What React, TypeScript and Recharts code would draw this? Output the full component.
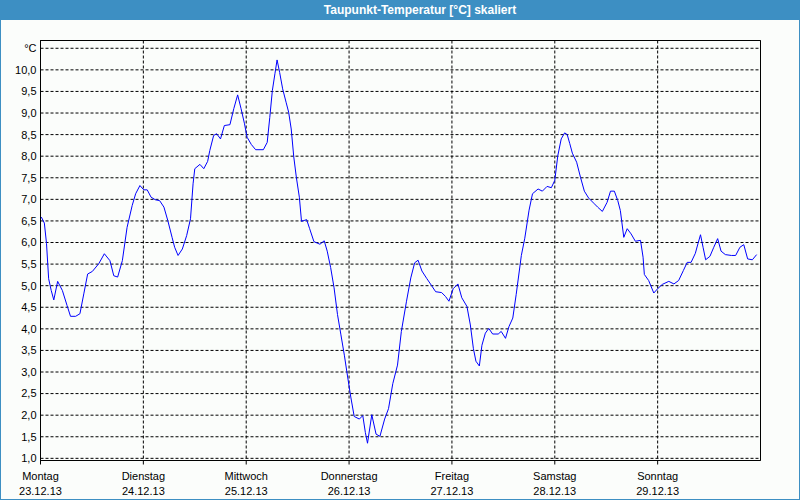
import { CartesianGrid, Line, LineChart, ReferenceArea, XAxis, YAxis } from "recharts";

// hours since Montag 00:00 and dew point (°C)
const hours = [
  0.2, 0.9, 1.4, 1.9, 2.5, 3.1, 4.0, 5.1, 6.2, 7.0, 8.2, 9.2, 10.1, 11.0, 12.1, 13.6, 14.9, 16.2, 17.1, 18.0,
  19.1, 20.2, 21.4, 22.2, 23.2, 24.1, 24.9, 25.8, 26.8, 27.8, 28.8, 29.7, 30.7, 31.3, 32.1, 33.1, 34.1, 35.0,
  35.6, 36.0, 37.2, 38.1, 39.0, 39.5, 40.4, 41.1, 42.0, 42.9, 44.2, 45.1, 46.0, 46.8, 47.6, 48.2, 49.2, 50.2,
  52.0, 52.9, 53.5, 54.1, 54.7, 55.2, 55.8, 56.5, 57.3, 57.9, 58.5, 59.1, 59.7, 60.4, 60.9, 62.1, 62.8, 63.8,
  65.2, 66.2, 66.9, 67.7, 68.5, 69.3, 70.1, 70.9, 71.6, 72.4, 73.2, 74.4, 75.2, 75.8, 76.3, 77.3, 78.3, 79.2,
  80.3, 81.2, 82.2, 83.3, 84.2, 85.4, 86.4, 87.3, 88.1, 89.0, 90.1, 91.2, 92.2, 93.6, 94.5, 95.3, 96.3, 97.4,
  98.3, 99.5, 100.3, 101.0, 101.6, 102.4, 103.0, 103.8, 104.6, 105.5, 106.8, 107.5, 108.5, 109.3, 110.2, 111.0,
  112.2, 113.0, 114.0, 114.8, 116.1, 117.1, 118.2, 119.2, 120.0, 120.7, 121.5, 122.3, 122.9, 123.5, 124.1,
  125.1, 126.0, 126.9, 127.9, 129.1, 130.0, 131.1, 132.2, 133.0, 133.9, 134.7, 135.3, 136.1, 136.9, 137.8,
  138.8, 140.0, 140.6, 140.9, 141.9, 143.1, 144.0, 145.1, 146.6, 147.8, 148.9, 150.0, 150.9, 151.8, 152.8,
  153.4, 154.0, 154.6, 155.2, 156.2, 157.1, 158.0, 158.8, 159.8, 161.2, 162.2, 163.2, 164.1, 165.0, 166.1, 167.1,
];
const dewPoint = [
  6.59, 6.45, 5.98, 5.16, 4.89, 4.67, 5.1, 4.89, 4.54, 4.29, 4.29, 4.35, 4.81, 5.27, 5.33, 5.51, 5.74, 5.58, 5.23, 5.2,
  5.58, 6.35, 6.86, 7.13, 7.32, 7.22, 7.22, 7.05, 6.99, 6.97, 6.82, 6.51, 6.12, 5.89, 5.7, 5.85, 6.16, 6.55,
  7.36, 7.71, 7.81, 7.71, 7.88, 8.13, 8.48, 8.52, 8.4, 8.71, 8.73, 9.1, 9.42, 9.1, 8.75, 8.44, 8.27, 8.15,
  8.15, 8.32, 8.9, 9.52, 9.91, 10.23, 9.94, 9.56, 9.25, 9.02, 8.63, 7.98, 7.51, 7.05, 6.49, 6.53, 6.32, 6.02,
  5.96, 6.04, 5.8, 5.42, 4.95, 4.33, 3.86, 3.39, 2.93, 2.42, 1.97, 1.91, 1.99, 1.6, 1.35, 2.01, 1.56, 1.51,
  1.91, 2.15, 2.73, 3.16, 3.94, 4.64, 5.18, 5.53, 5.59, 5.34, 5.17, 5.01, 4.86, 4.84, 4.75, 4.64, 4.93, 5.04,
  4.72, 4.52, 4.09, 3.55, 3.25, 3.14, 3.62, 3.9, 4.01, 3.88, 3.88, 3.94, 3.78, 4.05, 4.25, 4.8,
  5.7, 6.1, 6.75, 7.13, 7.24, 7.19, 7.3, 7.27, 7.44, 8.01, 8.4, 8.54, 8.5, 8.29, 8.07,
  7.86, 7.51, 7.19, 7.03, 6.91, 6.82, 6.72, 6.93, 7.19, 7.19, 6.97, 6.74, 6.12, 6.32, 6.2,
  6.03, 6.05, 5.66, 5.26, 5.12, 4.83, 4.93, 5.03, 5.1, 5.04, 5.12, 5.35, 5.54, 5.54, 5.75,
  5.97, 6.18, 5.89, 5.6, 5.68, 5.89, 6.09, 5.8, 5.72, 5.7, 5.7, 5.89, 5.95, 5.62, 5.6, 5.72,
];

const dayNames = ["Montag", "Dienstag", "Mittwoch", "Donnerstag", "Freitag", "Samstag", "Sonntag"];
const dayDates = ["23.12.13", "24.12.13", "25.12.13", "26.12.13", "27.12.13", "28.12.13", "29.12.13"];
const dayTicks = [0, 24, 48, 72, 96, 120, 144];
const yTicks = [1, 1.5, 2, 2.5, 3, 3.5, 4, 4.5, 5, 5.5, 6, 6.5, 7, 7.5, 8, 8.5, 9, 9.5, 10, 10.5];

const data = hours.map((h, i) => ({ h, t: dewPoint[i] }));

const FONT = "'Liberation Sans', Arial, sans-serif";
const FRAME = "#3d8fc3";

function DayTick(props: any) {
  const { x, y, payload } = props;
  const i = dayTicks.indexOf(payload.value);
  return (
    <text x={x} y={y} textAnchor="middle" fontSize={11} fontFamily={FONT} fill="#000">
      <tspan x={x} dy={15}>{dayNames[i]}</tspan>
      <tspan x={x} dy={15}>{dayDates[i]}</tspan>
    </text>
  );
}

export default function App() {
  return (
    <div
      style={{
        position: "absolute",
        left: 0,
        top: 0,
        width: 800,
        height: 500,
        background: "#fbfdfb",
        boxShadow: `inset 0 0 0 1px ${FRAME}`,
      }}
    >
      <div
        style={{
          position: "absolute",
          left: 0,
          top: 0,
          width: 800,
          height: 20,
          background: FRAME,
          color: "#fff",
          fontFamily: FONT,
          fontWeight: "bold",
          fontSize: 12,
          lineHeight: "20px",
        }}
      >
        <span style={{ position: "absolute", left: 420, transform: "translateX(-50%)", whiteSpace: "nowrap" }}>
          Taupunkt-Temperatur [°C] skaliert
        </span>
      </div>
      <LineChart
        width={800}
        height={500}
        data={data}
        margin={{ top: 40.5, right: 39.5, bottom: 0, left: 0.5 }}
        style={{ position: "absolute", left: 0, top: 0 }}
      >
        <CartesianGrid stroke="#000" strokeDasharray="3 2" />
        <XAxis
          type="number"
          dataKey="h"
          domain={[0, 168]}
          ticks={dayTicks}
          height={39.5}
          tickSize={4}
          tickMargin={0}
          stroke="#000"
          tick={<DayTick />}
          interval={0}
        />
        <YAxis
          type="number"
          domain={[0.95, 10.68]}
          ticks={yTicks}
          width={40}
          tickLine={false}
          tickSize={0}
          tickMargin={4}
          stroke="#000"
          interval={0}
          tick={{ fontSize: 11, fill: "#000", fontFamily: FONT }}
          tickFormatter={(v: number) => (v === 10.5 ? "°C" : v.toFixed(1).replace(".", ","))}
        />
        <ReferenceArea x1={0} x2={168} y1={0.95} y2={10.68} fill="none" stroke="#000" strokeWidth={1} />
        <Line
          type="linear"
          dataKey="t"
          stroke="#0000ff"
          strokeWidth={1}
          dot={false}
          isAnimationActive={false}
        />
      </LineChart>
    </div>
  );
}
